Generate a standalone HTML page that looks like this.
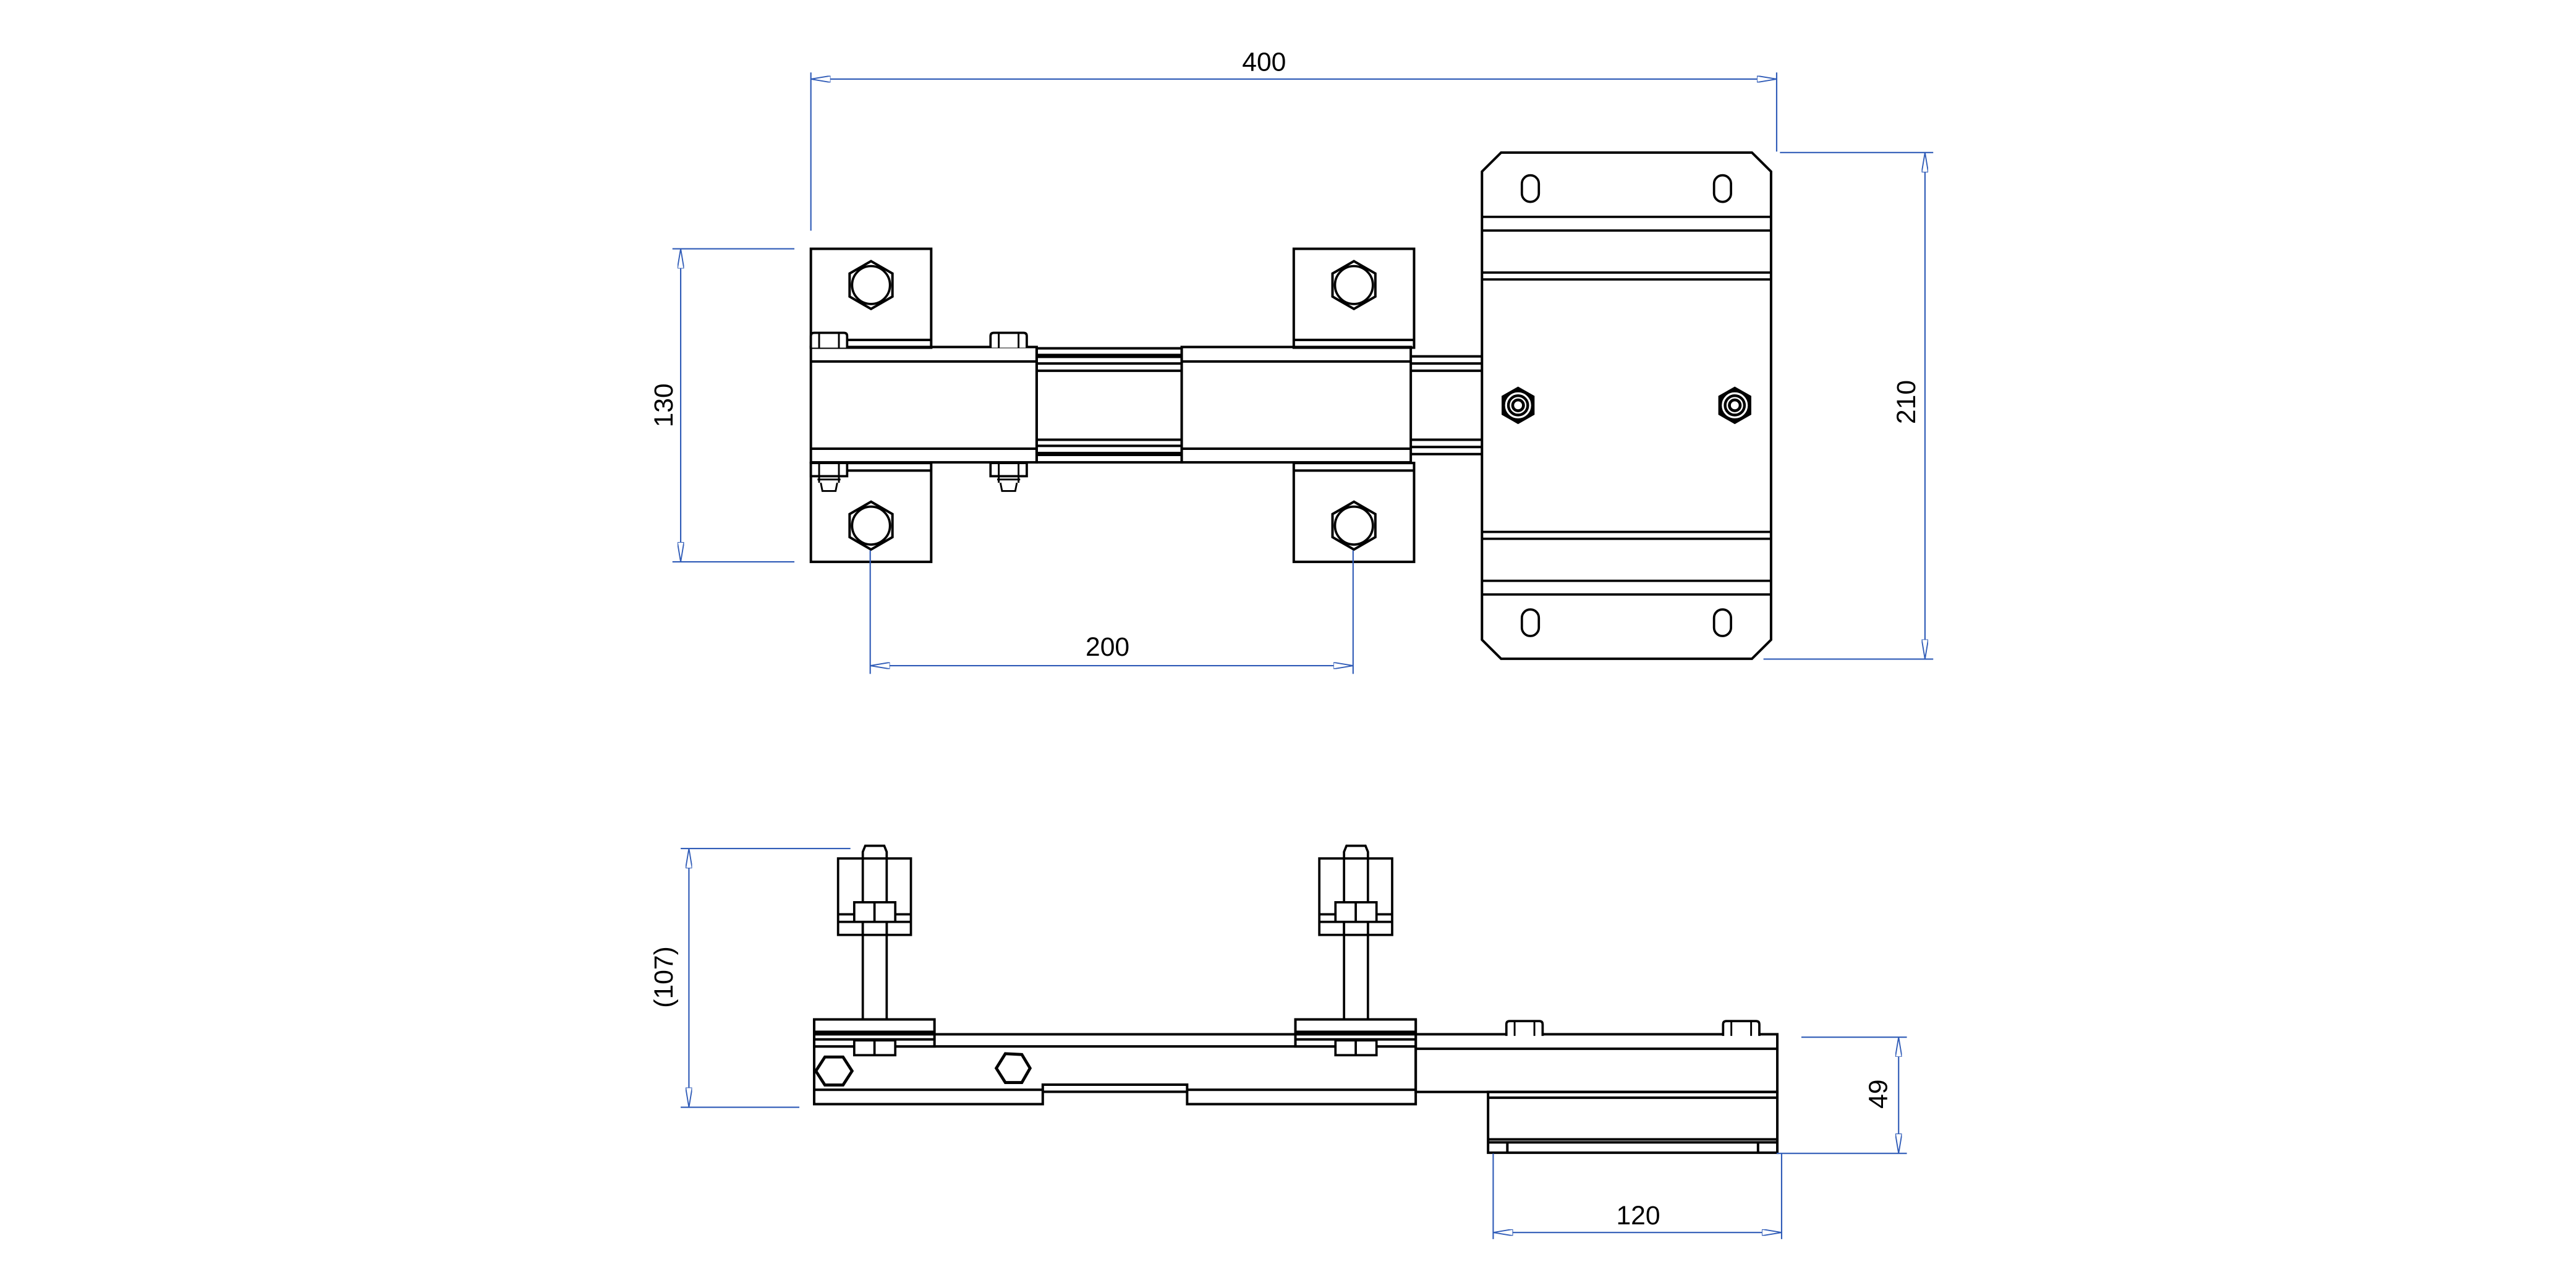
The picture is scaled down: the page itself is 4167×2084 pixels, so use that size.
<!DOCTYPE html>
<html><head><meta charset="utf-8"><style>html,body{margin:0;padding:0;background:#fff}svg{display:block}</style></head>
<body>
<svg xmlns="http://www.w3.org/2000/svg" width="4167" height="2084" viewBox="0 0 1563 781.7">
<defs>
<marker id="a" viewBox="0 0 12 4" refX="12" refY="2" markerWidth="12" markerHeight="4" markerUnits="userSpaceOnUse" orient="auto-start-reverse">
<path d="M0,0 L12,2 L0,4 Z" fill="#fff" stroke="#2f5bb7" stroke-width="0.7"/></marker>
<g id="hexv"><polygon points="0,-14.5 13,-7 13,7 0,14.5 -13,7 -13,-7" fill="#fff" stroke="#000" stroke-width="1.5"/><circle r="11.5" fill="none" stroke="#000" stroke-width="1.4"/></g>
<g id="nutb"><polygon points="0,-11.4 10,-5.7 10,5.7 0,11.4 -10,5.7 -10,-5.7" fill="#000"/><circle r="7.3" fill="none" stroke="#fff" stroke-width="1.2"/><circle r="4.6" fill="none" stroke="#fff" stroke-width="0.9"/><circle r="2.4" fill="#fff"/></g>
<g id="bolt"><path d="M-11,8 V1 Q-11,-1 -9,-1 H9 Q11,-1 11,1 V8" fill="#fff" stroke="#000" stroke-width="1.4"/><line x1="-6" y1="-1" x2="-6" y2="8" stroke="#000" stroke-width="1.1"/><line x1="6" y1="-1" x2="6" y2="8" stroke="#000" stroke-width="1.1"/></g>
<g id="nutd"><rect x="-11" y="0" width="22" height="8" fill="#fff" stroke="#000" stroke-width="1.4"/><line x1="-6" y1="0" x2="-6" y2="8" stroke="#000" stroke-width="1.1"/><line x1="6" y1="0" x2="6" y2="8" stroke="#000" stroke-width="1.1"/><path d="M-6,8 V12 M6,8 V12 M-7,10 H7 M-5,12 L-4,17 H4 L5,12" fill="none" stroke="#000" stroke-width="1.1"/></g>
</defs>
<g fill="none" stroke="#000" stroke-width="1.5">
<rect x="492" y="151" width="73" height="60"/><line x1="492" y1="206.3" x2="565" y2="206.3"/>
<rect x="492" y="281" width="73" height="60"/><line x1="492" y1="285.6" x2="565" y2="285.6"/>
<rect x="785" y="151" width="73" height="60"/><line x1="785" y1="206.3" x2="858" y2="206.3"/>
<rect x="785" y="281" width="73" height="60"/><line x1="785" y1="285.6" x2="858" y2="285.6"/>
<rect x="492" y="210.6" width="137" height="70"/><line x1="492" y1="219.4" x2="629" y2="219.4"/><line x1="492" y1="272.3" x2="629" y2="272.3"/>
<rect x="629" y="211.4" width="88" height="69.2"/>
<line x1="629" y1="216" x2="717" y2="216" stroke-width="2.6"/><line x1="629" y1="220.6" x2="717" y2="220.6"/><line x1="629" y1="225" x2="717" y2="225"/>
<line x1="629" y1="266.9" x2="717" y2="266.9"/><line x1="629" y1="270.6" x2="717" y2="270.6"/><line x1="629" y1="275.5" x2="717" y2="275.5" stroke-width="2.6"/>
<rect x="717" y="210.6" width="139" height="70"/><line x1="717" y1="219.4" x2="856" y2="219.4"/><line x1="717" y1="272.3" x2="856" y2="272.3"/>
<path d="M856,216.3 H899 M856,220.6 H899 M856,225 H899 M856,266.9 H899 M856,271.3 H899 M856,275.6 H899"/>
</g>
<use href="#hexv" x="528.5" y="173"/><use href="#hexv" x="821.5" y="173"/>
<use href="#hexv" x="528.5" y="319"/><use href="#hexv" x="821.5" y="319"/>
<use href="#bolt" x="503" y="203"/><use href="#bolt" x="612" y="203"/>
<use href="#nutd" x="503" y="281"/><use href="#nutd" x="612" y="281"/>
<g fill="#fff" stroke="#000" stroke-width="1.5">
<path d="M910.8,92.6 H1063 L1074.6,104.1 V388.3 L1063,399.8 H910.8 L899.2,388.3 V104.1 Z"/>
</g>
<g fill="none" stroke="#000" stroke-width="1.4">
<path d="M899.2,131.6 H1074.6 M899.2,139.9 H1074.6 M899.2,165.4 H1074.6 M899.2,169.6 H1074.6 M899.2,322.8 H1074.6 M899.2,327 H1074.6 M899.2,352.5 H1074.6 M899.2,360.8 H1074.6"/>
<rect x="923.4" y="106.4" width="10.3" height="16.1" rx="5.1"/><rect x="1040" y="106.4" width="10.3" height="16.1" rx="5.1"/>
<rect x="923.4" y="369.9" width="10.3" height="16.1" rx="5.1"/><rect x="1040" y="369.9" width="10.3" height="16.1" rx="5.1"/>
</g>
<use href="#nutb" x="921.1" y="246"/><use href="#nutb" x="1052.6" y="246"/>

<g fill="none" stroke="#000" stroke-width="1.5">
<rect x="859" y="627.7" width="219.4" height="35"/><line x1="859" y1="636.5" x2="1078.4" y2="636.5"/>
<rect x="902.9" y="662.7" width="175.5" height="36.9"/>
<path d="M902.9,666.2 H1078.4 M902.9,691.5 H1078.4 M902.9,693.3 H1078.4 M914.6,693.3 V699.6 M1066.7,693.3 V699.6"/>
<path d="M494,618.7 V670.1 H632.7 V658.3 H720.3 V670.1 H859 V618.7"/>
<path d="M494,661.4 H632.7 M632.7,662.6 H720.3 M720.3,661.4 H859"/>
<path d="M567,627.7 H786 M567,635.1 H786 M494,635.1 H567 M786,635.1 H859"/>
<rect x="494" y="618.7" width="73" height="16.4" fill="#fff"/>
<path d="M494,626.2 H567 M494,627.7 H567 M494,630.8 H567"/>
<rect x="786" y="618.7" width="73" height="16.4" fill="#fff"/>
<path d="M786,626.2 H859 M786,627.7 H859 M786,630.8 H859"/>
</g>
<g id="clampL" fill="#fff" stroke="#000" stroke-width="1.4">
<path d="M523.5,618.7 V521 M538,618.7 V521"/>
<path d="M523.5,521 V517 L525,513.3 H536.5 L538,517 V521"/>
<rect x="508.5" y="521" width="44.2" height="46.4" fill="none"/>
<path d="M508.5,554.9 H552.7 M508.5,559.5 H552.7" fill="none"/>
<rect x="523.5" y="559.5" width="14.5" height="7.9" fill="#fff"/>
<rect x="518.3" y="547.6" width="24.9" height="11.9"/><line x1="530.6" y1="547.6" x2="530.6" y2="559.5"/>
<rect x="518.3" y="631.4" width="24.9" height="9"/><line x1="530.6" y1="631.4" x2="530.6" y2="640.4"/>
</g>
<use href="#clampL" x="292" y="0"/>
<g fill="#fff" stroke="#000" stroke-width="1.8">
<polygon points="500.5,641.5 511.5,641.5 517,650 511.5,658.5 500.5,658.5 495,650"/>
<polygon points="610,639.5 620,640 625,648.3 620,657 610,657 604.5,648.3"/>
</g>
<use href="#bolt" x="925" y="620.7"/><use href="#bolt" x="1056.5" y="620.7"/>

<g stroke="#2f5bb7" stroke-width="0.8" fill="none">
<line x1="492" y1="44" x2="492" y2="140"/><line x1="1078" y1="44" x2="1078" y2="92"/>
<line x1="492" y1="48" x2="1078" y2="48" marker-start="url(#a)" marker-end="url(#a)"/>
<line x1="408" y1="151" x2="482" y2="151"/><line x1="408" y1="341" x2="482" y2="341"/>
<line x1="413" y1="151" x2="413" y2="341" marker-start="url(#a)" marker-end="url(#a)"/>
<line x1="528" y1="334" x2="528" y2="409"/><line x1="821" y1="334" x2="821" y2="409"/>
<line x1="528" y1="404" x2="821" y2="404" marker-start="url(#a)" marker-end="url(#a)"/>
<line x1="1080" y1="92.6" x2="1173" y2="92.6"/><line x1="1070" y1="400" x2="1173" y2="400"/>
<line x1="1168" y1="92.6" x2="1168" y2="400" marker-start="url(#a)" marker-end="url(#a)"/>
<line x1="413" y1="515" x2="516" y2="515"/><line x1="413" y1="672" x2="485" y2="672"/>
<line x1="418" y1="515" x2="418" y2="672" marker-start="url(#a)" marker-end="url(#a)"/>
<line x1="1093" y1="629.5" x2="1157" y2="629.5"/><line x1="1078" y1="700" x2="1157" y2="700"/>
<line x1="1152" y1="629.5" x2="1152" y2="700" marker-start="url(#a)" marker-end="url(#a)"/>
<line x1="906" y1="700" x2="906" y2="752"/><line x1="1081" y1="700" x2="1081" y2="752"/>
<line x1="906" y1="748" x2="1081" y2="748" marker-start="url(#a)" marker-end="url(#a)"/>
</g>
<g font-family="Liberation Sans, sans-serif" font-size="16" fill="#000" text-anchor="middle">
<text x="767" y="43">400</text>
<text x="672" y="398">200</text>
<text x="994" y="743">120</text>
<text transform="translate(408,246) rotate(-90)">130</text>
<text transform="translate(1162,244) rotate(-90)">210</text>
<text transform="translate(408,593) rotate(-90)">(107)</text>
<text transform="translate(1145,664) rotate(-90)">49</text>
</g>
</svg>
</body></html>
